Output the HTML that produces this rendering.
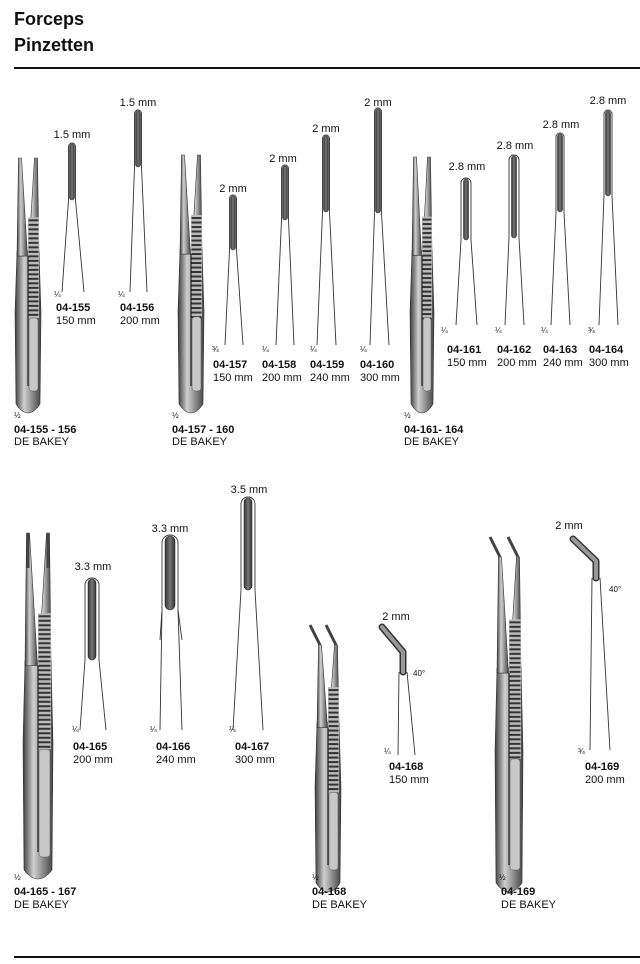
<!DOCTYPE html>
<html><head><meta charset="utf-8"><style>
body{margin:0;background:#fff}
svg{display:block}
text{font-family:"Liberation Sans",Arial,sans-serif;fill:#111}
.l{font-size:11px}.b{font-size:11px;font-weight:bold}.f{font-size:8px}
.h{font-size:18px;font-weight:bold}
</style></head><body>
<svg id="s" width="640" height="964" viewBox="0 0 640 964" xmlns="http://www.w3.org/2000/svg">
<defs>
<linearGradient id="g" x1="0" x2="1" y1="0" y2="0">
<stop offset="0" stop-color="#3a3a3a"/><stop offset="0.35" stop-color="#d0d0d0"/><stop offset="0.6" stop-color="#9a9a9a"/><stop offset="1" stop-color="#444"/>
</linearGradient>
<linearGradient id="d" x1="0" x2="1"><stop offset="0" stop-color="#333"/><stop offset="0.5" stop-color="#777"/><stop offset="1" stop-color="#333"/></linearGradient>
</defs>
<text class="h" x="14" y="25">Forceps</text>
<text class="h" x="14" y="51">Pinzetten</text>
<rect x="14" y="67" width="626" height="2" fill="#111"/>
<rect x="14" y="956" width="626" height="2" fill="#111"/>
<g id="shapes"></g>

<text class="l" x="72" y="138" text-anchor="middle">1.5 mm</text>
<text class="l" x="138" y="106" text-anchor="middle">1.5 mm</text>
<text class="f" x="54" y="297">¼</text><text class="f" x="118" y="297">¼</text>
<text class="b" x="56" y="311">04-155</text><text class="l" x="56" y="324">150 mm</text>
<text class="b" x="120" y="311">04-156</text><text class="l" x="120" y="324">200 mm</text>
<text class="f" x="14" y="418">½</text>
<text class="b" x="14" y="433">04-155 - 156</text><text class="l" x="14" y="445">DE BAKEY</text>

<text class="l" x="233" y="192" text-anchor="middle">2 mm</text>
<text class="l" x="283" y="162" text-anchor="middle">2 mm</text>
<text class="l" x="326" y="132" text-anchor="middle">2 mm</text>
<text class="l" x="378" y="106" text-anchor="middle">2 mm</text>
<text class="f" x="212" y="352">¾</text><text class="f" x="262" y="352">¼</text><text class="f" x="310" y="352">¼</text><text class="f" x="360" y="352">¼</text>
<text class="b" x="213" y="368">04-157</text><text class="l" x="213" y="381">150 mm</text>
<text class="b" x="262" y="368">04-158</text><text class="l" x="262" y="381">200 mm</text>
<text class="b" x="310" y="368">04-159</text><text class="l" x="310" y="381">240 mm</text>
<text class="b" x="360" y="368">04-160</text><text class="l" x="360" y="381">300 mm</text>
<text class="f" x="172" y="418">½</text>
<text class="b" x="172" y="433">04-157 - 160</text><text class="l" x="172" y="445">DE BAKEY</text>

<text class="l" x="467" y="170" text-anchor="middle">2.8 mm</text>
<text class="l" x="515" y="149" text-anchor="middle">2.8 mm</text>
<text class="l" x="561" y="128" text-anchor="middle">2.8 mm</text>
<text class="l" x="608" y="104" text-anchor="middle">2.8 mm</text>
<text class="f" x="441" y="333">¼</text><text class="f" x="495" y="333">¼</text><text class="f" x="541" y="333">¼</text><text class="f" x="588" y="333">¾</text>
<text class="b" x="447" y="353">04-161</text><text class="l" x="447" y="366">150 mm</text>
<text class="b" x="497" y="353">04-162</text><text class="l" x="497" y="366">200 mm</text>
<text class="b" x="543" y="353">04-163</text><text class="l" x="543" y="366">240 mm</text>
<text class="b" x="589" y="353">04-164</text><text class="l" x="589" y="366">300 mm</text>
<text class="f" x="404" y="418">½</text>
<text class="b" x="404" y="433">04-161- 164</text><text class="l" x="404" y="445">DE BAKEY</text>

<text class="l" x="93" y="570" text-anchor="middle">3.3 mm</text>
<text class="l" x="170" y="532" text-anchor="middle">3.3 mm</text>
<text class="l" x="249" y="493" text-anchor="middle">3.5 mm</text>
<text class="f" x="72" y="732">¼</text><text class="f" x="150" y="732">¼</text><text class="f" x="229" y="732">¼</text>
<text class="b" x="73" y="750">04-165</text><text class="l" x="73" y="763">200 mm</text>
<text class="b" x="156" y="750">04-166</text><text class="l" x="156" y="763">240 mm</text>
<text class="b" x="235" y="750">04-167</text><text class="l" x="235" y="763">300 mm</text>
<text class="f" x="14" y="880">½</text>
<text class="b" x="14" y="895">04-165 - 167</text><text class="l" x="14" y="908">DE BAKEY</text>

<text class="l" x="396" y="620" text-anchor="middle">2 mm</text>
<text class="f" x="413" y="676">40°</text>
<text class="f" x="384" y="754">¼</text>
<text class="b" x="389" y="770">04-168</text><text class="l" x="389" y="783">150 mm</text>
<text class="f" x="312" y="880">½</text>
<text class="b" x="312" y="895">04-168</text><text class="l" x="312" y="908">DE BAKEY</text>

<text class="l" x="569" y="529" text-anchor="middle">2 mm</text>
<text class="f" x="609" y="592">40°</text>
<text class="f" x="578" y="754">¾</text>
<text class="b" x="585" y="770">04-169</text><text class="l" x="585" y="783">200 mm</text>
<text class="f" x="499" y="880">½</text>
<text class="b" x="501" y="895">04-169</text><text class="l" x="501" y="908">DE BAKEY</text>
</svg>
<script>
var G=document.getElementById('shapes'),NS='http://www.w3.org/2000/svg';
function el(t,a){var e=document.createElementNS(NS,t);for(var k in a)e.setAttribute(k,a[k]);G.appendChild(e);return e;}
function tip(cx,top,de,by,bl,br,w,dw){
 el('path',{d:'M'+bl+' '+by+' L'+(cx-w/2)+' '+de+' L'+(cx-w/2)+' '+(top+w/2)+' A'+(w/2)+' '+(w/2)+' 0 0 1 '+(cx+w/2)+' '+(top+w/2)+' L'+(cx+w/2)+' '+de+' L'+br+' '+by,fill:'none',stroke:'#333','stroke-width':0.9});
 el('rect',{x:cx-dw/2,y:top+1,width:dw,height:de-top-1,rx:dw/2,fill:'url(#d)',stroke:'#222','stroke-width':0.5});
}
function forceps(x,top,bot,w,curved,gap){
 var m=x+w/2,H=bot-top,jb=top+H*0.38;
 // body (lower)
 var d='M'+(x+3)+' '+(jb-5)+' L'+(x+1)+' '+(top+H*0.6)+' L'+(x+2)+' '+(bot-12)+' Q'+m+' '+(bot+6)+' '+(x+w-2)+' '+(bot-12)+' L'+(x+w-1)+' '+(top+H*0.6)+' L'+(x+w-3)+' '+(jb-5)+' Z';
 el('path',{d:d,fill:'url(#g)',stroke:'#333','stroke-width':0.6});
 var lt=x+6,rt=x+w-6; // jaw tips
 var sh=curved?-10:0, ty=top+(curved?20:0);
 if(curved){
  el('path',{d:'M'+(lt+sh)+' '+top+' L'+lt+' '+ty,stroke:'#444','stroke-width':3,fill:'none'});
  el('path',{d:'M'+(rt+sh)+' '+top+' L'+rt+' '+ty,stroke:'#444','stroke-width':3,fill:'none'});
 }
 var gp=gap?4:0;
 el('path',{d:'M'+(lt-1.5)+' '+ty+' L'+(lt+1.5)+' '+ty+' L'+(m-0.5)+' '+jb+' L'+(x+3)+' '+jb+' Z',fill:'url(#g)',stroke:'#333','stroke-width':0.6});
 el('path',{d:'M'+(rt-1.5)+' '+ty+' L'+(rt+1.5)+' '+ty+' L'+(x+w-3)+' '+jb+' L'+(m+0.5)+' '+jb+' Z',fill:'url(#g)',stroke:'#333','stroke-width':0.6});
 if(!curved&&!gap){
  el('rect',{x:lt-1.5,y:top,width:3,height:35,fill:'#444'});
  el('rect',{x:rt-1.5,y:top,width:3,height:35,fill:'#444'});
 }
 var s0=top+H*0.23,s1=top+H*0.62;
 el('rect',{x:m,y:s0,width:w/2-3,height:s1-s0,fill:'#bbb'});
 for(var y=s0+2;y<s1;y+=4.5)el('rect',{x:m+0.5,y:y,width:w/2-4,height:2,fill:'#333'});
 el('line',{x1:m,y1:jb,x2:m,y2:bot-30,stroke:'#222','stroke-width':1.2});
 el('rect',{x:m+1,y:s1,width:w/2-5,height:bot-s1-25,rx:3,fill:'#c8c8c8',stroke:'#555','stroke-width':0.5});
}
forceps(14,158,416,28,0,1);forceps(177,155,416,28,0,1);forceps(409,157,416,26,0,1);
forceps(22,533,882,32,0,0);forceps(314,625,895,28,1,0);forceps(494,537,895,30,1,0);
tip(72,143,200,292,62,84,7,5);tip(138,110,167,292,130,147,7,5);
tip(233,195,250,345,225,243,7,5);tip(285,165,220,345,276,294,7,5);
tip(326,135,212,345,317,336,7,5);tip(378,108,213,345,370,389,7,5);
tip(466,178,240,325,456,477,10,5);tip(514,155,238,325,505,524,10,5);
tip(560,133,212,325,551,570,8,5);tip(608,110,196,325,599,618,8,5);
tip(92,578,660,730,80,106,14,8);tip(170,535,610,730,160,182,16,10);tip(248,497,590,730,233,263,14,8);
el('path',{d:'M162 610 L160 640 M178 610 L182 640',stroke:'#333',fill:'none','stroke-width':0.9});
function ctip(pts,by,bl,br){
 var p='M'+pts[0]+' '+pts[1]+' L'+pts[2]+' '+pts[3]+' L'+pts[4]+' '+pts[5];
 el('path',{d:p,fill:'none',stroke:'#333','stroke-width':7,'stroke-linecap':'round','stroke-linejoin':'round'});
 el('path',{d:p,fill:'none',stroke:'#999','stroke-width':4,'stroke-linecap':'round','stroke-linejoin':'round'});
 el('path',{d:'M'+(pts[4]-4)+' '+pts[5]+' L'+bl+' '+by+' M'+(pts[4]+4)+' '+pts[5]+' L'+br+' '+by,stroke:'#333',fill:'none','stroke-width':0.9});
}
ctip([382,627,403,652,403,672],755,398,415);
ctip([573,539,596,561,596,578],750,590,610);
</script>
</body></html>
